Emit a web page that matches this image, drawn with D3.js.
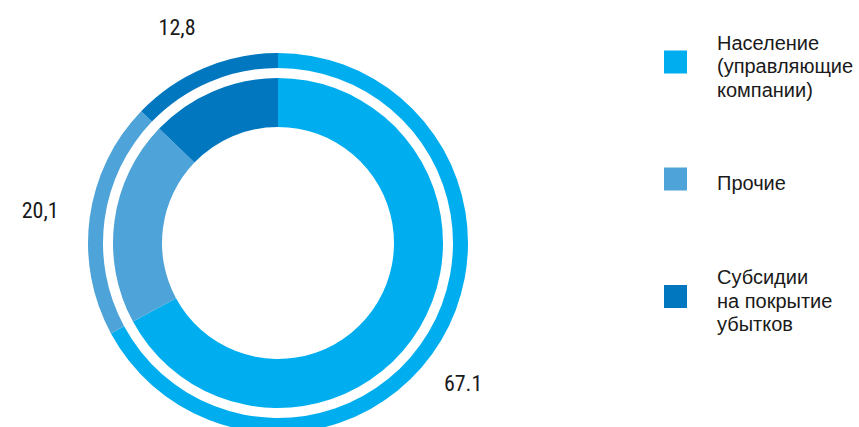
<!DOCTYPE html>
<html>
<head>
<meta charset="utf-8">
<script src="https://cdn.jsdelivr.net/npm/d3@7"></script>
<style>
  html, body { margin: 0; padding: 0; background: #fff; }
  svg { display: block; }
  .val { font-family: "Liberation Sans Narrow", "Arial Narrow", "Roboto Condensed", "Liberation Sans", sans-serif; }
  .leg { font-family: "Liberation Sans", Arial, sans-serif; }
</style>
</head>
<body>
<svg id="chart" width="859" height="427"></svg>
<script>
// ---- data ----
const categories = ["Население (управляющие компании)", "Прочие", "Субсидии на покрытие убытков"];
const legendLines = [["Население", "(управляющие", "компании)"], ["Прочие"], ["Субсидии", "на покрытие", "убытков"]];
const values = [67.1, 20.1, 12.8];
const valueLabels = ["67.1", "20,1", "12,8"];
const colors = ["#00aeef", "#4ea3d8", "#0077bf"];

// ---- layout ----
const cx = 278, cy = 243;
const innerR0 = 116, innerR1 = 165;
const outerR0 = 175, outerR1 = 190;

const svg = d3.select("#chart");
const g = svg.append("g").attr("transform", `translate(${cx},${cy})`);

const color = d3.scaleOrdinal().domain(categories).range(colors);
const pie = d3.pie().sort(null).value(d => d.value);
const data = categories.map((c, i) => ({ cat: c, value: values[i], label: valueLabels[i] }));
const arcs = pie(data);

const innerArc = d3.arc().innerRadius(innerR0).outerRadius(innerR1);
const outerArc = d3.arc().innerRadius(outerR0).outerRadius(outerR1);

g.selectAll("path.inner").data(arcs).join("path")
  .attr("class", "inner")
  .attr("d", innerArc)
  .attr("fill", d => color(d.data.cat));

g.selectAll("path.outer").data(arcs).join("path")
  .attr("class", "outer")
  .attr("d", outerArc)
  .attr("fill", d => color(d.data.cat));

// value labels placed outside the ring, around each slice
const labelAngleShift = [0.11, 0.0, -0.036]; // radians, layout tweak
const labelRadius = [232, 240, 238];
g.selectAll("text.val").data(arcs).join("text")
  .attr("class", "val")
  .attr("x", (d, i) => {
    const a = (d.startAngle + d.endAngle) / 2 + labelAngleShift[i];
    return Math.sin(a) * labelRadius[i];
  })
  .attr("y", (d, i) => {
    const a = (d.startAngle + d.endAngle) / 2 + labelAngleShift[i];
    return -Math.cos(a) * labelRadius[i];
  })
  .attr("dy", "0.35em")
  .attr("text-anchor", "middle")
  .attr("font-size", 22)
  .attr("fill", "#1a1a1a")
  .text(d => d.data.label);

// legend
const legendTop = [50.5, 167.5, 285];
const legend = svg.append("g");
const items = legend.selectAll("g.item").data(categories).join("g")
  .attr("class", "item")
  .attr("transform", (d, i) => `translate(664,${legendTop[i]})`);

items.append("rect")
  .attr("width", 23).attr("height", 23)
  .attr("fill", d => color(d));

items.each(function (d, i) {
  const lines = legendLines[i];
  const lh = 23.5;
  const t = d3.select(this).append("text")
    .attr("class", "leg")
    .attr("x", 53)
    .attr("font-size", 20)
    .attr("fill", "#1a1a1a");
  const firstBaseline = 11.5 + 11 - (lines.length - 1) * lh / 2;
  lines.forEach((ln, k) => {
    t.append("tspan").attr("x", 53).attr("y", firstBaseline + k * lh).text(ln);
  });
});
</script>
</body>
</html>
